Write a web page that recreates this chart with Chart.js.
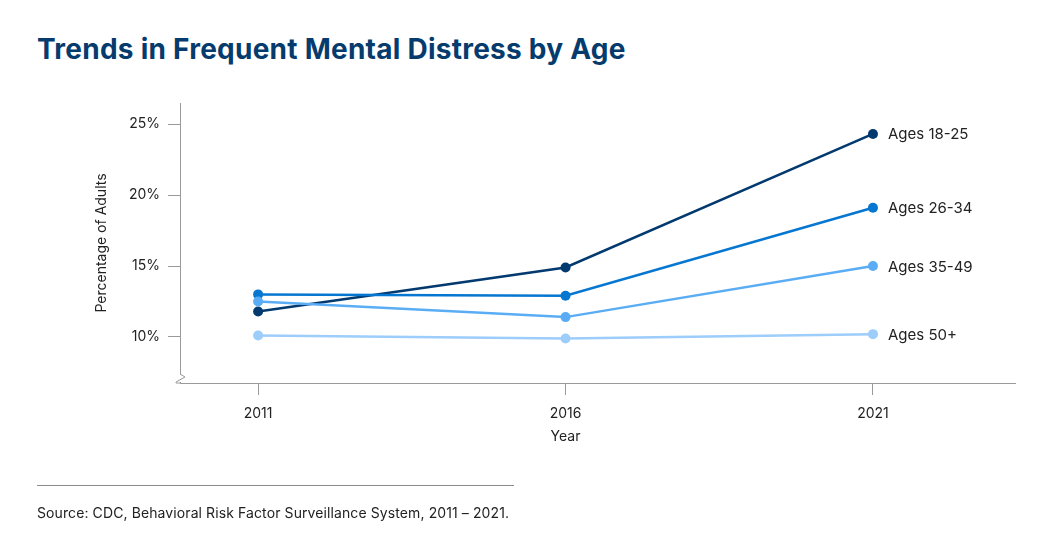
<!DOCTYPE html>
<html>
<head>
<meta charset="utf-8">
<script src="https://cdn.jsdelivr.net/npm/chart.js@4"></script>
<style>
  html, body { margin: 0; padding: 0; background: #fff; }
  #wrap { position: relative; width: 1049px; height: 553px; overflow: hidden; }
  #title {
    position: absolute; left: 37px; top: 35px; margin: 0;
    font: bold 28px/28px Inter, sans-serif; color: #063b6d; letter-spacing: 0.25px; white-space: nowrap;
  }
  #rule { position: absolute; left: 37px; top: 485px; width: 477px; height: 1px; background: #8c8c8c; }
  #source {
    position: absolute; left: 37px; top: 504px; margin: 0;
    font: 14px/18px Inter, sans-serif; color: #222; letter-spacing: 0.1px; white-space: nowrap;
  }
  canvas { position: absolute; left: 0; top: 0; }
</style>
</head>
<body>
<div id="wrap">
  <h1 id="title">Trends in Frequent Mental Distress by Age</h1>
  <canvas id="chart" width="1049" height="553"></canvas>
  <div id="rule"></div>
  <p id="source">Source: CDC, Behavioral Risk Factor Surveillance System, 2011 – 2021.</p>
</div>
<script>
// Data
const years = [2011, 2016, 2021];
const ages18to25 = [11.8, 14.9, 24.3];
const ages26to34 = [13.0, 12.9, 19.1];
const ages35to49 = [12.5, 11.4, 15.0];
const ages50plus = [10.1, 9.9, 10.2];
const seriesNames = ['Ages 18-25', 'Ages 26-34', 'Ages 35-49', 'Ages 50+'];
const yTicks = [10, 15, 20, 25];

const seriesColors = ['#023a6f', '#0677d1', '#5aadf4', '#9dcdfb'];
const axisColor = '#9a9a9a';
const textColor = '#222';
const baseFont = { family: "Inter, 'Noto Sans', sans-serif", size: 14 };

function toPoints(values) {
  return values.map((v, i) => ({ x: years[i], y: v }));
}

// Name labels to the right of the last point
const endLabels = {
  id: 'endLabels',
  afterDatasetsDraw(chart) {
    const ctx = chart.ctx;
    ctx.save();
    ctx.font = "15px Inter, 'Noto Sans', sans-serif";
    ctx.fillStyle = textColor;
    ctx.textBaseline = 'middle';
    ctx.textAlign = 'left';
    chart.data.datasets.forEach((ds, i) => {
      const meta = chart.getDatasetMeta(i);
      const last = meta.data[meta.data.length - 1];
      ctx.fillText(ds.label, last.x + 15, last.y + 1);
    });
    ctx.restore();
  }
};

// x axis title sits under the middle year, not the middle of the axis
const xTitle = {
  id: 'xTitle',
  afterDraw(chart) {
    const ctx = chart.ctx;
    const x = chart.scales.x.getPixelForValue(years[1]);
    ctx.save();
    ctx.font = "14px Inter, 'Noto Sans', sans-serif";
    ctx.fillStyle = textColor;
    ctx.textAlign = 'center';
    ctx.textBaseline = 'middle';
    ctx.fillText('Year', x, chart.chartArea.bottom + 54);
    ctx.restore();
  }
};

// Break mark at the bottom of the y axis
const axisBreak = {
  id: 'axisBreak',
  afterDraw(chart) {
    const ctx = chart.ctx;
    const x = chart.chartArea.left;
    const b = chart.chartArea.bottom;
    ctx.save();
    ctx.fillStyle = '#fff';
    ctx.fillRect(x - 2, b - 9, 4, 8);
    ctx.strokeStyle = axisColor;
    ctx.lineWidth = 1;
    ctx.beginPath();
    ctx.moveTo(x, b - 9);
    ctx.lineTo(x + 5, b - 6);
    ctx.lineTo(x - 4, b - 1);
    ctx.lineTo(x - 4, b);
    ctx.lineTo(x, b);
    ctx.stroke();
    ctx.restore();
  }
};

new Chart(document.getElementById('chart'), {
  type: 'line',
  data: {
    datasets: [ages18to25, ages26to34, ages35to49, ages50plus].map((vals, i) => ({
      label: seriesNames[i],
      data: toPoints(vals),
      borderColor: seriesColors[i],
      backgroundColor: seriesColors[i],
      pointBackgroundColor: seriesColors[i],
      pointBorderColor: seriesColors[i],
      pointRadius: 5,
      pointBorderWidth: 0,
      borderWidth: 2.5,
      tension: 0,
      fill: false
    })).reverse()
  },
  options: {
    responsive: false,
    animation: false,
    layout: { padding: { left: 89, right: 34, top: 103, bottom: 102 } },
    plugins: { legend: { display: false }, tooltip: { enabled: false }, title: { display: false } },
    scales: {
      x: {
        type: 'linear',
        min: 2009.73,
        max: 2023.31,
        afterBuildTicks: s => { s.ticks = years.map(v => ({ value: v })); },
        afterFit: s => { s.height = 68; },
        grid: { drawOnChartArea: false, drawTicks: true, tickLength: 12, color: axisColor },
        border: { display: true, color: axisColor },
        ticks: { color: textColor, font: baseFont, padding: 10, callback: v => String(v) },
        title: { display: false }
      },
      y: {
        min: 6.76,
        max: 26.48,
        afterBuildTicks: s => { s.ticks = yTicks.map(v => ({ value: v })); },
        afterFit: s => { s.width = 91; },
        grid: { drawOnChartArea: false, drawTicks: true, tickLength: 12, color: axisColor },
        border: { display: true, color: axisColor },
        ticks: { color: textColor, font: baseFont, padding: 8, callback: v => v + '%' },
        title: { display: true, text: 'Percentage of Adults', color: textColor, font: baseFont }
      }
    }
  },
  plugins: [endLabels, xTitle, axisBreak]
});
</script>
</body>
</html>
